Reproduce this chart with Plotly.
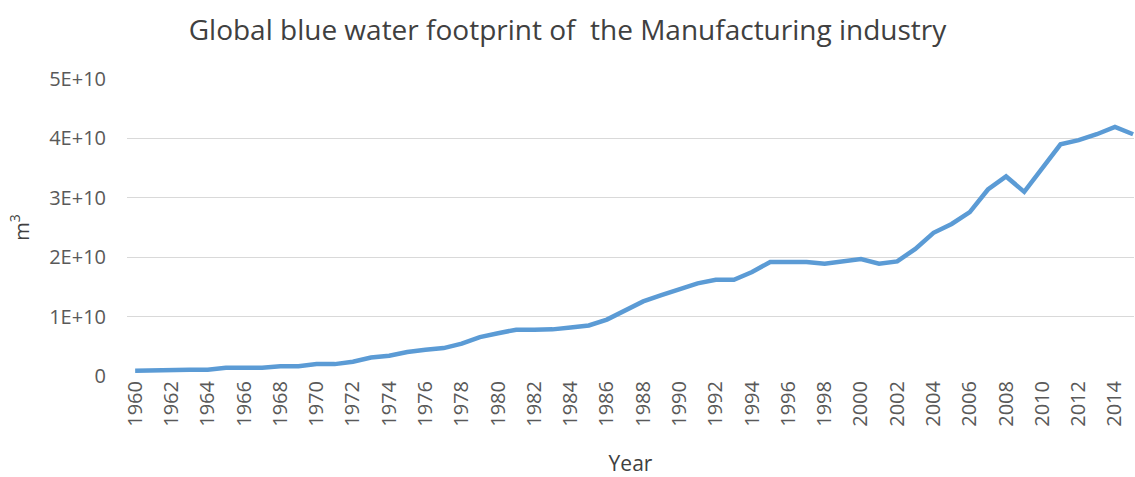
import plotly.graph_objects as go

# years and global blue water footprint of manufacturing (m3)
years = list(range(1960, 2016))
footprint = [
    0.90e9, 1.00e9, 1.05e9, 1.05e9, 1.05e9, 1.40e9, 1.40e9, 1.40e9, 1.65e9, 1.65e9,
    2.00e9, 2.00e9, 2.40e9, 3.10e9, 3.40e9, 4.05e9, 4.40e9, 4.70e9, 5.45e9, 6.55e9,
    7.20e9, 7.80e9, 7.80e9, 7.85e9, 8.15e9, 8.50e9, 9.50e9, 11.1e9, 12.55e9, 13.6e9,
    14.6e9, 15.6e9, 16.2e9, 16.2e9, 17.5e9, 19.2e9, 19.2e9, 19.2e9, 18.9e9, 19.3e9,
    19.7e9, 18.9e9, 19.3e9, 21.4e9, 24.1e9, 25.6e9, 27.6e9, 31.4e9, 33.6e9, 31.0e9,
    35.0e9, 39.0e9, 39.7e9, 40.7e9, 41.95e9, 40.7e9,
]

# axis ticks
x_ticks = list(range(1960, 2015, 2))
x_ticktext = [str(y) for y in x_ticks]
y_ticks = [0, 1e10, 2e10, 3e10, 4e10, 5e10]
y_ticktext = ["0", "1E+10", "2E+10", "3E+10", "4E+10", "5E+10"]

fig = go.Figure()
fig.add_trace(go.Scatter(
    x=years,
    y=footprint,
    mode="lines",
    line=dict(color="#5B9BD5", width=4.5),
))

fig.update_layout(
    width=1135,
    height=477,
    title=dict(
        text="Global blue water footprint of  the Manufacturing industry",
        x=0.5, xanchor="center", y=1 - 30 / 477, yanchor="middle",
        font=dict(family="Open Sans", size=28, color="#404040"),
    ),
    font=dict(family="Open Sans", color="#595959"),
    plot_bgcolor="white",
    paper_bgcolor="white",
    showlegend=False,
    margin=dict(l=127, r=1, t=79, b=101),
    xaxis=dict(
        range=[1959.55, 2015.05],
        tickvals=x_ticks,
        ticktext=x_ticktext,
        tickangle=-90,
        tickfont=dict(size=20, color="#595959"),
        showgrid=False,
        zeroline=False,
        showline=False,
        ticks="",
        automargin=False,
        title=dict(text="Year", font=dict(size=21, color="#404040"), standoff=32),
    ),
    yaxis=dict(
        range=[0, 5e10],
        tickvals=y_ticks,
        ticktext=y_ticktext,
        tickfont=dict(size=20, color="#595959"),
        showgrid=True,
        gridcolor="#D9D9D9",
        gridwidth=1.3,
        zeroline=False,
        showline=False,
        ticks="",
        automargin=False,
        ticklabelstandoff=20,
        title=dict(text="m<sup>3</sup>", font=dict(size=20, color="#404040"), standoff=14),
    ),
)

fig.write_html("out.html", config={"displayModeBar": False},
               post_script="document.body.style.margin='0';")
